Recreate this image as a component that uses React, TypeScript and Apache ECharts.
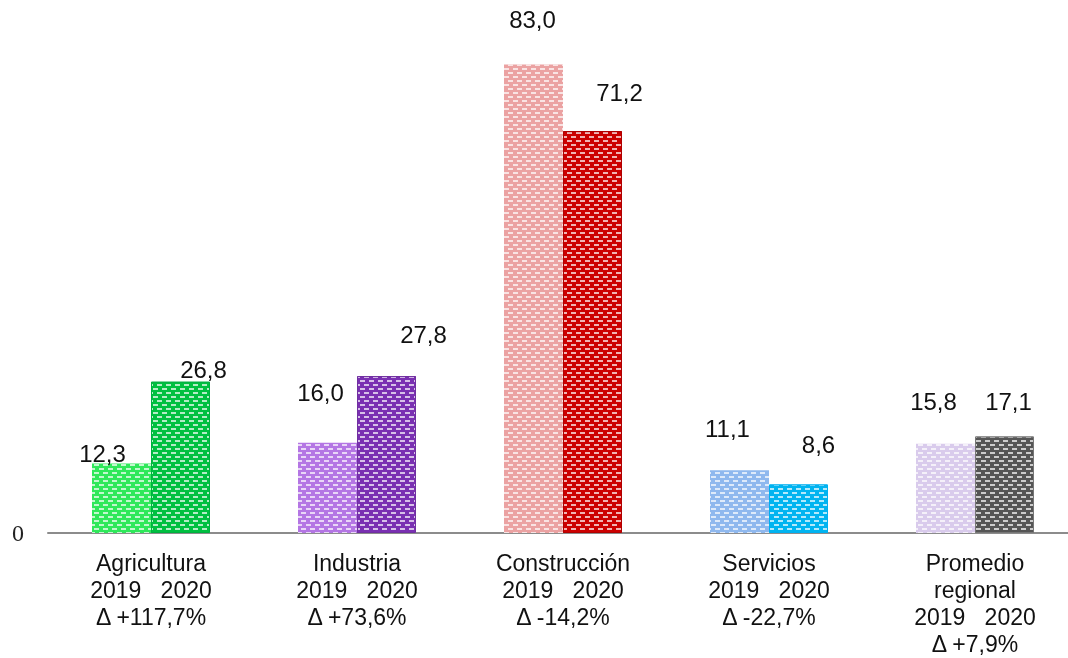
import React, { useEffect, useRef } from "react";
import * as echarts from "echarts";

const categories = [
  "Agricultura\n2019   2020\nΔ +117,7%",
  "Industria\n2019   2020\nΔ +73,6%",
  "Construcción\n2019   2020\nΔ -14,2%",
  "Servicios\n2019   2020\nΔ -22,7%",
  "Promedio\nregional\n2019   2020\nΔ +7,9%",
];
const values2019 = [12.3, 16.0, 83.0, 11.1, 15.8];
const values2020 = [26.8, 27.8, 71.2, 8.6, 17.1];

const colors2019 = ["#2fe85a", "#b476e4", "#eba2a2", "#8fb8ee", "#d9cbec"];
const colors2020 = ["#00c040", "#7a30b2", "#cc0000", "#00b4f0", "#555555"];
const borders2020 = ["#00b040", "#7030a0", "#b00000", "#00b0f0", "#777777"];

const offsets2019: [number, number][] = [[-19, 7], [-7, -33], [-1, -28], [-12, -25], [-12, -25]];
const offsets2020: [number, number][] = [[23, 5], [37, -25], [27, -22], [20, -23], [4, -18]];

const decal = {
  symbol: "rect",
  symbolSize: 1,
  color: "rgba(255,255,255,0.7)",
  dashArrayX: [[5, 4], [0, 4, 5, 0]],
  dashArrayY: [2, 2],
  rotation: 0,
};

const fmt = (v: number) => v.toFixed(1).replace(".", ",");

export default function App() {
  const ref = useRef<HTMLDivElement>(null);
  useEffect(() => {
    if (!ref.current) return;
    const chart = echarts.init(ref.current, undefined, { renderer: "svg" });
    const mk = (vals: number[], cols: string[], offs: [number, number][], borders?: string[]) =>
      vals.map((v, i) => ({
        value: v,
        itemStyle: {
          color: cols[i],
          decal,
          borderColor: borders ? borders[i] : cols[i],
          borderWidth: borders ? 1 : 0,
        },
        label: { offset: offs[i] },
      }));
    const labelStyle = {
      show: true,
      position: "top",
      distance: 5,
      formatter: (p: any) => fmt(p.value),
      fontFamily: "Liberation Sans, Arial, sans-serif",
      fontSize: 24,
      color: "#111",
    };
    chart.setOption({
      animation: false,
      grid: { left: 48, width: 1030, top: 25, bottom: 125 },
      xAxis: {
        type: "category",
        data: categories,
        axisLine: { lineStyle: { color: "#8c8c8c", width: 2 } },
        axisTick: { show: false },
        axisLabel: {
          interval: 0,
          margin: 16,
          fontFamily: "Liberation Sans, Arial, sans-serif",
          fontSize: 23,
          color: "#111",
          lineHeight: 27,
          verticalAlign: "top",
        },
      },
      yAxis: {
        type: "value",
        min: 0,
        max: 90,
        interval: 90,
        axisLine: { show: false },
        axisTick: { show: false },
        splitLine: { show: false },
        axisLabel: {
          margin: 24,
          formatter: (v: number) => (v === 0 ? "0" : ""),
          fontFamily: "Liberation Serif, Times New Roman, serif",
          fontSize: 24,
          color: "#222",
        },
      },
      series: [
        {
          type: "bar",
          name: "2019",
          barWidth: 59,
          barGap: "0%",
          data: mk(values2019, colors2019, offsets2019),
          label: labelStyle,
        },
        {
          type: "bar",
          name: "2020",
          barWidth: 59,
          barGap: "0%",
          data: mk(values2020, colors2020, offsets2020, borders2020),
          label: labelStyle,
        },
      ],
    });
    return () => chart.dispose();
  }, []);
  return (
    <div style={{ position: "fixed", left: 0, top: 0, width: 1068, height: 658, overflow: "hidden" }}>
      <div ref={ref} style={{ width: 1090, height: 658 }} />
    </div>
  );
}
